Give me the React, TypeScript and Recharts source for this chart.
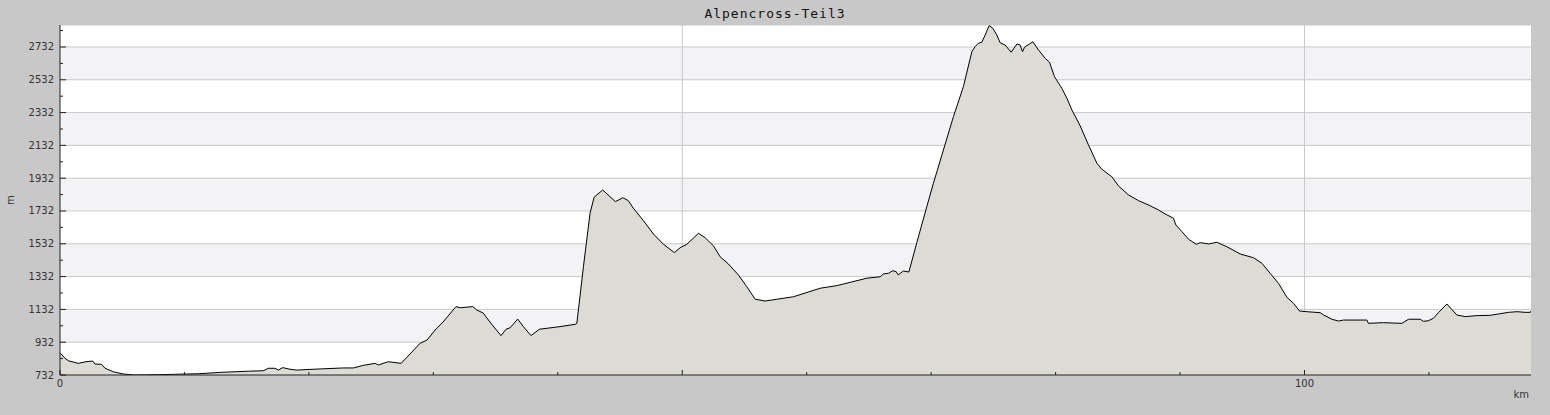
import { AreaChart, Area, XAxis, YAxis, CartesianGrid } from "recharts";

// distance in km, elevation in m
const km = [
  0, 0.4, 0.67, 1.47, 2.09, 2.63, 2.81, 3.35, 3.62, 4.28, 5.09, 6.03, 7.9, 11.25, 12.86, 15.13,
  16.34, 16.74, 17.28, 17.54, 17.9, 18.48, 19.02, 20.9, 22.77, 23.57, 24.38, 25.32, 25.58, 26.38,
  27.41, 28.93, 29.49, 30.14, 30.78, 31.82, 32.15, 33.17, 33.49, 34.0, 34.69, 35.44, 35.84, 36.17,
  36.78, 37.23, 37.85, 38.52, 40.18, 41.39, 41.53, 42.06, 42.59, 42.92, 43.61, 44.63, 45.22, 45.67,
  46.07, 46.88, 47.68, 48.49, 49.37, 49.83, 50.37, 51.3, 51.84, 52.5, 53.04, 53.71, 54.51, 55.19,
  55.86, 56.66, 57.6, 58.93, 61.08, 62.42, 63.49, 64.83, 65.9, 66.16, 66.57, 66.92, 67.19, 67.35,
  67.77, 68.21, 68.85, 69.65, 70.18, 71.79, 72.59, 73.27, 73.53, 73.8, 74.07, 74.34, 74.66, 74.96,
  75.28, 75.54, 75.94, 76.43, 76.89, 77.15, 77.34, 77.5, 78.17, 78.62, 79.16, 79.51, 79.91, 80.5,
  80.91, 81.31, 81.98, 82.64, 83.32, 83.72, 84.52, 85.05, 85.86, 86.66, 87.6, 88.27, 88.8, 89.47,
  89.66, 90.15, 90.68, 91.3, 91.62, 92.28, 92.96, 93.76, 94.83, 95.9, 96.58, 97.24, 97.91, 98.59,
  99.12, 99.6, 100.19, 101.26, 101.53, 102.2, 102.73, 103.13, 105.01, 105.14, 106.35, 107.83,
  108.36, 109.3, 109.56, 109.96, 110.36, 110.76, 111.44, 112.24, 112.91, 113.85, 114.92, 115.59,
  116.39, 117.07, 117.74, 118.14, 118.2,
];

const elevation = [
  868, 834, 819, 803, 813, 817, 799, 797, 773, 752, 738, 732, 734, 740, 748, 755,
  758, 773, 773, 762, 777, 767, 762, 769, 775, 775, 791, 803, 793, 813,
  803, 925, 945, 1006, 1055, 1149, 1142, 1149, 1128, 1110, 1041, 972, 1011, 1020,
  1073, 1027, 972, 1011, 1027, 1041, 1047, 1392, 1718, 1816, 1860, 1789, 1813, 1795,
  1749, 1673, 1592, 1529, 1478, 1508, 1529, 1596, 1569, 1520, 1453, 1409, 1342, 1270,
  1194, 1183, 1194, 1209, 1261, 1277, 1297, 1322, 1331, 1348, 1352, 1368, 1362, 1342,
  1366, 1360, 1540, 1758, 1901, 2307, 2490, 2703, 2734, 2755, 2761, 2805, 2862, 2846,
  2805, 2758, 2744, 2700, 2750, 2744, 2703, 2730, 2764, 2714, 2663, 2639, 2551, 2480,
  2419, 2348, 2250, 2135, 2023, 1986, 1941, 1885, 1830, 1795, 1764, 1738, 1714, 1688,
  1647, 1606, 1560, 1529, 1539, 1531, 1541, 1514, 1470, 1447, 1413, 1352, 1291, 1206,
  1169, 1122, 1118, 1112, 1098, 1072, 1061, 1067, 1067, 1047, 1051, 1047,
  1072, 1072, 1059, 1063, 1078, 1112, 1165, 1098, 1088, 1094, 1096, 1104,
  1114, 1118, 1114, 1114, 1122,
];

const yTicks = [732, 832, 932, 1032, 1132, 1232, 1332, 1432, 1532, 1632, 1732, 1832, 1932, 2032, 2132, 2232, 2332, 2432, 2532, 2632, 2732, 2832];
const yLabels = [732, 932, 1132, 1332, 1532, 1732, 1932, 2132, 2332, 2532, 2732];
const gridY = [932, 1132, 1332, 1532, 1732, 1932, 2132, 2332, 2532, 2732, 2866];
const xTicks = [0, 10, 20, 30, 40, 50, 60, 70, 80, 90, 100, 110];
const xLabels = [0, 100];
const gridX = [50, 100];

const Y_MIN = 732;
const Y_MAX = 2866;
const X_MAX = 118.2;

const data = km.map((d, i) => ({ km: d, m: elevation[i] }));

const font = "'DejaVu Sans', Verdana, sans-serif";

function YTick({ x, y, payload }: any) {
  const v = payload.value;
  const major = yLabels.includes(v);
  return (
    <g>
      <line x1={x + 6} x2={x + 6 + (major ? 6 : 3)} y1={y} y2={y} stroke="#222" />
      {major && (
        <text x={x} y={y} dy={3.5} textAnchor="end" fontSize={10} fontFamily={font} fill="#333">
          {v}
        </text>
      )}
    </g>
  );
}

function XTick({ x, y, payload }: any) {
  const v = payload.value;
  const major = v % 50 === 0;
  return (
    <g>
      <line x1={x} x2={x} y1={y - 8} y2={y - 8 - (major ? 5 : 3)} stroke="#222" />
      {xLabels.includes(v) && (
        <text x={x} y={y} dy={4} textAnchor="middle" fontSize={10} fontFamily={font} fill="#333">
          {v}
        </text>
      )}
    </g>
  );
}

export default function App() {
  return (
    <div style={{ position: "relative", width: 1550, height: 415, background: "#c8c8c8" }}>
      <style>{`body{margin:0}`}</style>
      <div
        style={{
          position: "absolute",
          top: 7,
          left: 0,
          width: 1550,
          height: 14,
          lineHeight: "14px",
          textAlign: "center",
          fontFamily: "'DejaVu Sans Mono', monospace",
          fontSize: 13,
          letterSpacing: 1,
          color: "#111",
        }}
      >
        Alpencross-Teil3
      </div>
      <AreaChart width={1550} height={415} data={data} margin={{ top: 25, right: 19, bottom: 0, left: 0 }}>
        <CartesianGrid
          horizontalValues={gridY}
          verticalValues={gridX}
          horizontalFill={["#ffffff", "#f3f2f5"]}
          fillOpacity={1}
          stroke="#c9c9c9"
          strokeWidth={1}
        />
        <XAxis
          dataKey="km"
          type="number"
          domain={[0, X_MAX]}
          ticks={xTicks}
          interval={0}
          height={40}
          tickSize={0}
          tickMargin={8}
          tickLine={false}
          tick={XTick}
          axisLine={{ stroke: "#222" }}
          allowDataOverflow
          label={(p: any) => (
            <text
              x={p.viewBox.x + p.viewBox.width - 2}
              y={p.viewBox.y + 23}
              textAnchor="end"
              fontSize={10}
              fontFamily={font}
              fill="#333"
            >
              km
            </text>
          )}
        />
        <YAxis
          type="number"
          domain={[Y_MIN, Y_MAX]}
          ticks={yTicks}
          interval={0}
          width={60}
          tickSize={0}
          tickMargin={6}
          tickLine={false}
          tick={YTick}
          axisLine={{ stroke: "#222" }}
          allowDataOverflow
          label={(p: any) => (
            <text
              x={14}
              y={p.viewBox.y + p.viewBox.height / 2}
              textAnchor="middle"
              transform={`rotate(-90, 14, ${p.viewBox.y + p.viewBox.height / 2})`}
              fontSize={10}
              fontFamily={font}
              fill="#333"
            >
              m
            </text>
          )}
        />
        <Area
          type="linear"
          dataKey="m"
          stroke="#000"
          strokeWidth={1}
          fill="#dcdbd5"
          fillOpacity={1}
          dot={false}
          activeDot={false}
          isAnimationActive={false}
        />
      </AreaChart>
    </div>
  );
}
